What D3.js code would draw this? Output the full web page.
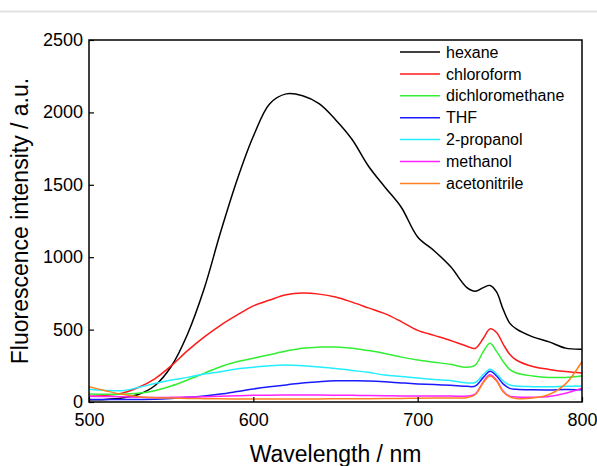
<!DOCTYPE html>
<html><head><meta charset="utf-8">
<script src="https://cdn.jsdelivr.net/npm/d3@7"></script>
<style>body{margin:0;background:#fff;} svg{display:block;font-family:"Liberation Sans",Arial,sans-serif;}</style>
</head><body>
<script>
const wavelengths = [500,510,520,530,540,550,560,570,580,590,600,610,620,630,640,650,660,670,680,690,700,710,720,730,735,740,744,748,752,756,760,770,780,790,800];
const hexane         = [15,18,28,52,112,245,470,780,1170,1530,1835,2060,2128,2115,2060,1950,1815,1630,1485,1345,1140,1045,935,790,765,790,805,760,640,545,505,450,415,372,365];
const chloroform     = [40,45,60,100,160,250,355,448,530,600,664,704,740,752,745,725,690,650,610,555,495,460,425,385,370,440,505,480,400,330,290,245,225,210,200];
const dichloromethane= [55,53,53,60,78,110,152,198,244,278,302,327,352,372,379,380,372,355,335,310,290,275,260,240,255,350,405,350,280,225,200,180,170,170,180];
const thf            = [18,18,18,18,19,24,32,42,55,72,90,105,118,132,140,146,146,145,140,132,125,120,115,108,110,170,212,180,125,94,88,84,83,86,84];
const propanol2      = [88,80,78,100,128,152,170,193,209,228,240,250,255,250,242,232,218,205,186,176,165,155,148,132,135,190,226,195,145,117,110,106,105,108,110];
const methanol       = [40,38,36,33,31,32,34,37,40,43,46,47,48,48,48,47,46,45,44,42,42,42,41,41,55,140,188,150,75,40,35,33,38,60,95];
const acetonitrile   = [105,78,53,37,30,27,25,23,22,21,21,21,21,21,21,22,22,23,24,25,26,27,28,30,50,135,180,145,70,35,25,28,52,125,280];
const seriesNames  = ["hexane","chloroform","dichloromethane","THF","2-propanol","methanol","acetonitrile"];
const seriesValues = [hexane,chloroform,dichloromethane,thf,propanol2,methanol,acetonitrile];
const seriesColors = ["#000000","#ff1a1a","#33ee33","#1a1aff","#22eeff","#ff22ff","#ff8020"];
const xTicks = [500,600,700,800];
const yTicks = [0,500,1000,1500,2000,2500];

const W=597,H=466;
const m={left:89,right:582,top:40,bottom:402};
const svg=d3.select("body").append("svg").attr("width",W).attr("height",H);
svg.append("line").attr("x1",0).attr("x2",W).attr("y1",11.5).attr("y2",11.5).attr("stroke","#e2e2e2").attr("stroke-width",2);

const x=d3.scaleLinear().domain([500,800]).range([m.left,m.right]);
const y=d3.scaleLinear().domain([0,2500]).range([m.bottom,m.top]);

svg.append("clipPath").attr("id","c").append("rect")
  .attr("x",m.left).attr("y",m.top).attr("width",m.right-m.left).attr("height",m.bottom-m.top);

const line=d3.line().x((d,i)=>x(wavelengths[i])).y(d=>y(d)).curve(d3.curveCatmullRom.alpha(0.5));
const g=svg.append("g").attr("clip-path","url(#c)");
seriesValues.forEach((vals,k)=>{
  g.append("path").datum(vals).attr("d",line).attr("fill","none")
   .attr("stroke",seriesColors[k]).attr("stroke-width",1.5).attr("stroke-linejoin","round");
});

const xa=svg.append("g").attr("transform",`translate(0,${m.bottom})`)
  .call(d3.axisBottom(x).tickValues(xTicks).tickFormat(d3.format("d")).tickSizeInner(-5).tickSizeOuter(0).tickPadding(11));
const ya=svg.append("g").attr("transform",`translate(${m.left},0)`)
  .call(d3.axisLeft(y).tickValues(yTicks).tickFormat(d3.format("d")).tickSizeInner(-5).tickSizeOuter(0).tickPadding(6));
[xa,ya].forEach(a=>{a.selectAll("text").attr("font-size",18).attr("fill","#000").attr("font-family","Liberation Sans, Arial, sans-serif");
  a.selectAll("line").attr("stroke","#000").attr("stroke-width",1.2);
  a.select(".domain").remove();});
ya.selectAll("text").attr("dy","0.3em");

svg.append("rect").attr("x",m.left).attr("y",m.top).attr("width",m.right-m.left).attr("height",m.bottom-m.top)
  .attr("fill","none").attr("stroke","#000").attr("stroke-width",1.5);

svg.append("text").attr("x",(m.left+m.right)/2).attr("y",462).attr("text-anchor","middle")
  .attr("font-size",23).text("Wavelength / nm");
svg.append("text").attr("transform",`translate(28,${(m.top+m.bottom)/2}) rotate(-90)`).attr("text-anchor","middle")
  .attr("font-size",23).text("Fluorescence intensity / a.u.");

const leg=svg.append("g");
seriesNames.forEach((n,k)=>{
  const yy=52+k*21.9;
  leg.append("line").attr("x1",400).attr("x2",440).attr("y1",yy).attr("y2",yy).attr("stroke",seriesColors[k]).attr("stroke-width",1.5);
  leg.append("text").attr("x",446).attr("y",yy).attr("dy","0.35em").attr("font-size",16).text(n);
});
</script>
</body></html>
